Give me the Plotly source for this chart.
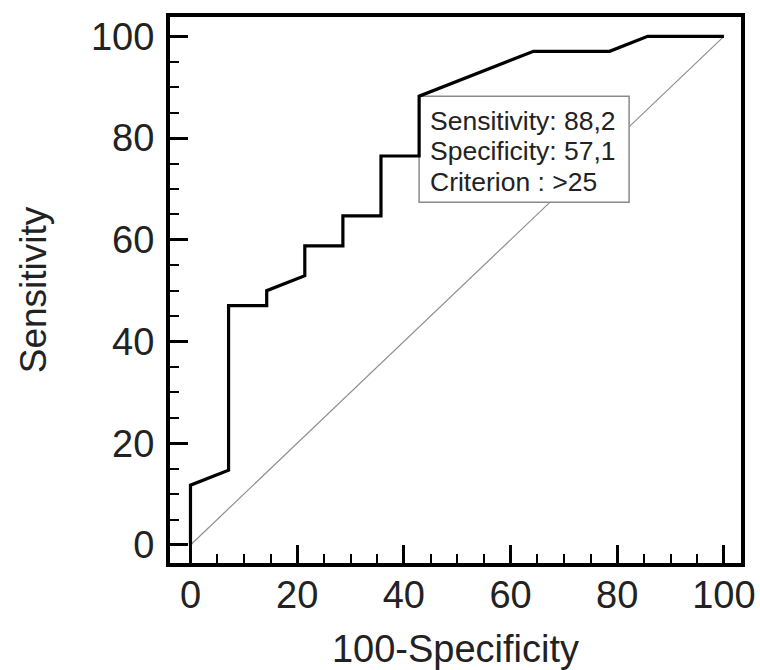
import plotly.graph_objects as go

# ROC curve (100-Specificity vs Sensitivity)
fpr = [0, 0, 7.14, 7.14, 14.29, 14.29, 21.43, 21.43, 28.57, 28.57, 35.71, 35.71,
       42.86, 42.86, 64.29, 78.57, 85.71, 100]
tpr = [0, 11.76, 14.71, 47.06, 47.06, 50.0, 52.94, 58.82, 58.82, 64.71, 64.71, 76.47,
       76.47, 88.24, 97.06, 97.06, 100, 100]
chance = [0, 100]
tick_vals = [0, 20, 40, 60, 80, 100]
tick_text = ["0", "20", "40", "60", "80", "100"]

sensitivity = 88.2
specificity = 57.1
criterion = ">25"
cut_x = fpr[13]
cut_y = tpr[13]
info_lines = [f"Sensitivity: {sensitivity:.1f}".replace(".", ","),
              f"Specificity: {specificity:.1f}".replace(".", ","),
              f"Criterion : {criterion}"]

FONT = "Liberation Sans, Arial, sans-serif"
TXT = "#222222"

fig = go.Figure()
fig.add_trace(go.Scatter(x=fpr, y=tpr, mode="lines",
                         line=dict(color="black", width=3.2),
                         showlegend=False, hoverinfo="skip"))

# chance diagonal (below)
fig.add_shape(type="line", layer="below", xref="x", yref="y",
              x0=chance[0], y0=chance[0], x1=chance[1], y1=chance[1],
              line=dict(color="#8e8e8e", width=1.2))
# info box anchored at criterion point
fig.add_shape(type="rect", layer="below", xref="x", yref="y",
              xsizemode="pixel", ysizemode="pixel",
              xanchor=cut_x, yanchor=cut_y,
              x0=0, x1=210, y0=-106, y1=0,
              fillcolor="white", line=dict(color="#8a8a8a", width=1.5))

shifts = [-24.5, -55, -85.5]
for txt, ys in zip(info_lines, shifts):
    fig.add_annotation(x=cut_x, y=cut_y, xref="x", yref="y", text=txt,
                       showarrow=False, xanchor="left", yanchor="middle",
                       xshift=9, yshift=ys,
                       font=dict(family=FONT, size=26.5, color=TXT))

axis_common = dict(
    tickmode="array", tickvals=tick_vals, ticktext=tick_text,
    ticks="inside", ticklen=18, tickwidth=3, tickcolor="black",
    showline=True, linewidth=4, linecolor="black", mirror=True,
    showgrid=False, zeroline=False,
    minor=dict(ticks="inside", ticklen=9, tickwidth=2, tickcolor="black",
               tick0=0, dtick=5, showgrid=False),
    tickfont=dict(family=FONT, size=38, color=TXT),
)

fig.update_xaxes(range=[-3.84, 103.2], ticklabelstandoff=-5,
                 title=dict(text="100-Specificity", standoff=24,
                            font=dict(family=FONT, size=38, color=TXT)),
                 **axis_common)
fig.update_yaxes(range=[-3.54, 103.8], ticklabelstandoff=4,
                 title=dict(text="Sensitivity", standoff=34,
                            font=dict(family=FONT, size=37, color=TXT)),
                 **axis_common)

fig.update_layout(width=760, height=670,
                  margin=dict(l=170, r=19, t=17, b=107, autoexpand=False),
                  paper_bgcolor="white", plot_bgcolor="white",
                  showlegend=False)

fig.write_html("out.html")
